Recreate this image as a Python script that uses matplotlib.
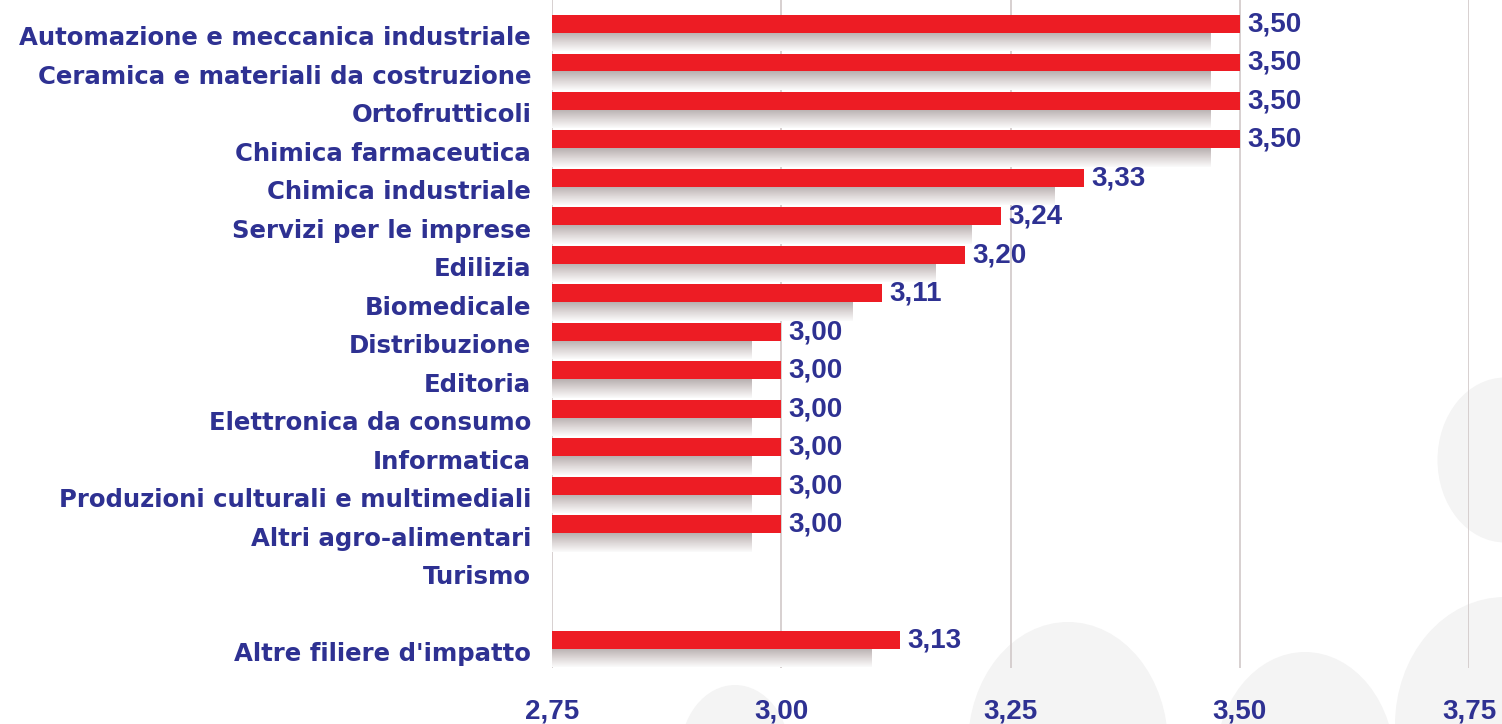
import matplotlib.pyplot as plt
import numpy as np
from matplotlib.colors import LinearSegmentedColormap
from matplotlib.patches import Ellipse

categories = [
    "Automazione e meccanica industriale",
    "Ceramica e materiali da costruzione",
    "Ortofrutticoli",
    "Chimica farmaceutica",
    "Chimica industriale",
    "Servizi per le imprese",
    "Edilizia",
    "Biomedicale",
    "Distribuzione",
    "Editoria",
    "Elettronica da consumo",
    "Informatica",
    "Produzioni culturali e multimediali",
    "Altri agro-alimentari",
    "Turismo",
    "",
    "Altre filiere d'impatto",
]
values = [3.50, 3.50, 3.50, 3.50, 3.33, 3.24, 3.20, 3.11,
          3.00, 3.00, 3.00, 3.00, 3.00, 3.00, None, None, 3.13]
ticks = [2.75, 3.00, 3.25, 3.50, 3.75]
tick_labels = ["2,75", "3,00", "3,25", "3,50", "3,75"]

RED = "#ed1c24"
BLUE = "#2e3192"
GRID = "#cdc4c4"
X0 = 2.75

fig = plt.figure(figsize=(15.02, 7.24), dpi=100)

# faint watermark blobs in the background
bg = fig.add_axes([0, 0, 1, 1], zorder=0)
bg.set_xlim(0, 1502)
bg.set_ylim(724, 0)
bg.axis("off")
for cx, cy, w, h in [(1068, 745, 200, 246), (1305, 765, 180, 226),
                     (1505, 725, 220, 256), (1505, 460, 135, 165),
                     (735, 755, 110, 140)]:
    bg.add_patch(Ellipse((cx, cy), w, h, color="#f4f4f4", lw=0))

ax = fig.add_axes([552 / 1502, 1 - 668 / 724, 917 / 1502, 668 / 724], zorder=1)
ax.patch.set_alpha(0)

shade = LinearSegmentedColormap.from_list("shade", ["#b8b0b0", "#dcd6d6", "#fbfbfb"])
grad = np.linspace(0, 1, 64).reshape(-1, 1)

for i, v in enumerate(values):
    if v is None:
        continue
    ax.barh(i - 0.545, v - X0, left=X0, height=0.467, align="edge",
            color=RED, zorder=3)
    ax.imshow(grad, cmap=shade, origin="lower", aspect="auto",
              extent=(X0, v - 0.032, i - 0.078, i + 0.40), zorder=2,
              interpolation="bilinear")
    ax.text(v + 0.008, i - 0.30, f"{v:.2f}".replace(".", ","),
            va="center", ha="left", color=BLUE, fontsize=20,
            fontweight="bold", family="Liberation Sans")

for t in ticks:
    ax.axvline(t, color=GRID, lw=1.1, zorder=1)

ax.set_xlim(2.75, 3.75)
ax.set_ylim(16.42, -0.935)
ax.set_yticks(range(len(categories)))
ax.set_yticklabels(categories, fontsize=17.6, fontweight="bold", color=BLUE,
                   family="DejaVu Sans")
ax.set_xticks(ticks)
ax.set_xticklabels(tick_labels, fontsize=20, fontweight="bold", color=BLUE,
                   family="Liberation Sans")
ax.tick_params(axis="y", length=0, pad=15)
ax.tick_params(axis="x", length=0, pad=22)
for s in ax.spines.values():
    s.set_visible(False)

fig.savefig("out.png", dpi=100)
